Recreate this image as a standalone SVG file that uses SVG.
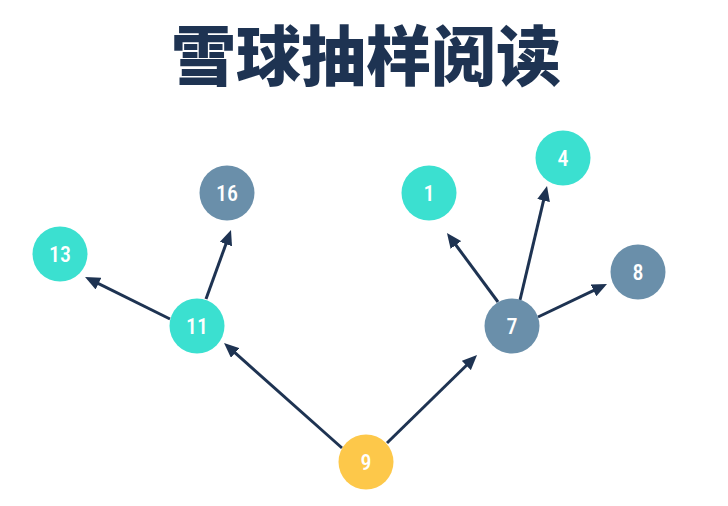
<svg xmlns="http://www.w3.org/2000/svg" width="728" height="506" viewBox="0 0 728 506">
<style>
.title{font-family:"Noto Sans CJK SC","Noto Sans CJK TC",sans-serif;font-weight:900;font-size:65px;fill:#1E3352}
.edge{stroke:#1E3352;stroke-width:3;fill:none}
.lbl{font-family:"Roboto Condensed","Liberation Sans Narrow","Roboto",sans-serif;font-weight:500;font-size:22px;fill:#FFFFFF;text-anchor:middle;dominant-baseline:central}
.teal{fill:#3BE0D0}
.slate{fill:#6A8FAA}
.gold{fill:#FDC84A}
</style>
<defs>
<marker id="arr" markerUnits="userSpaceOnUse" markerWidth="15" markerHeight="13" refX="5" refY="6.5" orient="auto">
<path d="M0,0 L15,6.5 L0,13 z" fill="#1E3352"/>
</marker>
</defs>
<rect width="728" height="506" fill="#FFFFFF"/>
<text class="title" x="366" y="80" text-anchor="middle">雪球抽样阅读</text>
<g id="connectors">
<line class="edge" x1="342" y1="448" x2="231.5" y2="349.6" marker-end="url(#arr)"/>
<line class="edge" x1="387" y1="443" x2="469.9" y2="362" marker-end="url(#arr)"/>
<line class="edge" x1="170" y1="319" x2="94" y2="281.4" marker-end="url(#arr)"/>
<line class="edge" x1="206" y1="299" x2="227.6" y2="239.4" marker-end="url(#arr)"/>
<line class="edge" x1="498" y1="302" x2="452.9" y2="241" marker-end="url(#arr)"/>
<line class="edge" x1="520" y1="300" x2="544.7" y2="195.7" marker-end="url(#arr)"/>
<line class="edge" x1="538" y1="317" x2="598" y2="288.3" marker-end="url(#arr)"/>
</g>
<g id="n13"><circle class="teal" cx="60" cy="254" r="27.5"/><text class="lbl" x="60" y="254">13</text></g>
<g id="n16"><circle class="slate" cx="227" cy="193" r="27.5"/><text class="lbl" x="227" y="193">16</text></g>
<g id="n11"><circle class="teal" cx="197" cy="326" r="27.5"/><text class="lbl" x="197" y="326">11</text></g>
<g id="n1"><circle class="teal" cx="429" cy="193" r="27.5"/><text class="lbl" x="429" y="193">1</text></g>
<g id="n4"><circle class="teal" cx="563" cy="158" r="27.5"/><text class="lbl" x="563" y="158">4</text></g>
<g id="n8"><circle class="slate" cx="638" cy="272" r="27.5"/><text class="lbl" x="638" y="272">8</text></g>
<g id="n7"><circle class="slate" cx="512" cy="326" r="27.5"/><text class="lbl" x="512" y="326">7</text></g>
<g id="n9"><circle class="gold" cx="366" cy="462" r="27.5"/><text class="lbl" x="366" y="462">9</text></g>
</svg>
